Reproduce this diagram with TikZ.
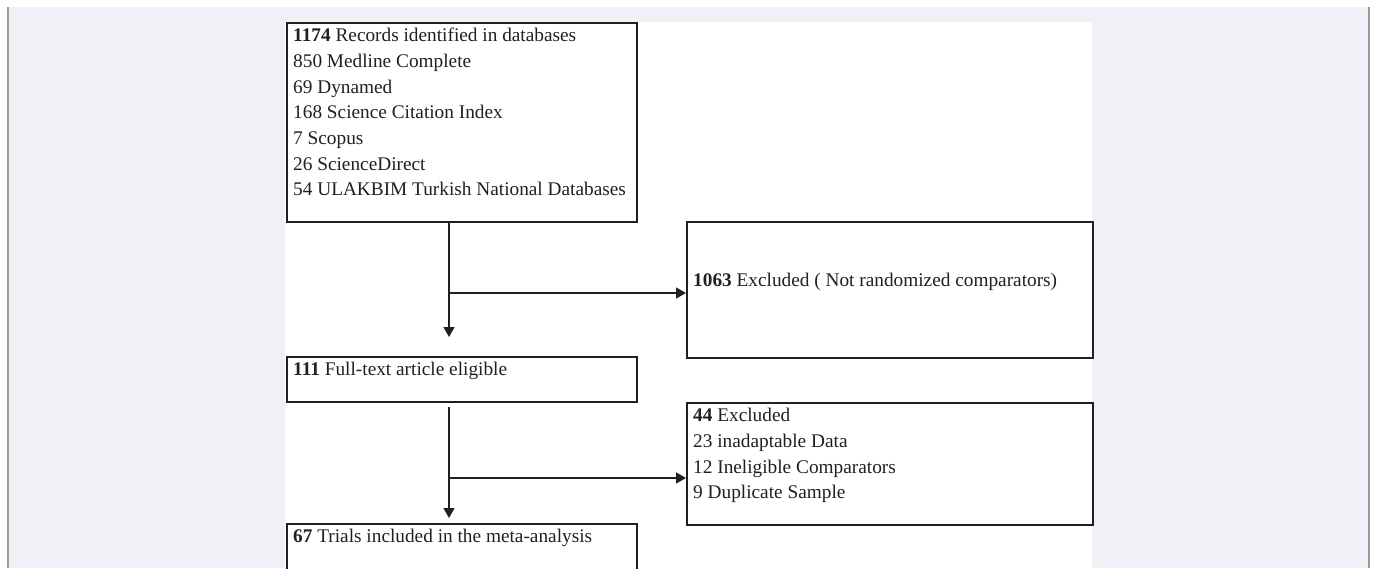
\documentclass[tikz,border=0pt]{standalone}
\usepackage{fontspec}
\setmainfont{Liberation Serif}
\usepackage{xcolor}
\usetikzlibrary{positioning, arrows.meta}

\definecolor{ink}{HTML}{231F20}
\definecolor{pagegray}{HTML}{F0F1F7}
\definecolor{rulegray}{HTML}{9A9A9A}

\begin{document}
\begin{tikzpicture}[x=1pt, y=-1pt,
  box/.style={draw=ink, line width=2pt, fill=white, inner sep=0pt, anchor=north west},
  txt/.style={text=ink, font=\fontsize{19.3}{25.7}\selectfont, align=left, inner sep=0pt},
  flow/.style={draw=ink, line width=1.6pt, -{Triangle[length=10pt, width=11pt]}}]
  \useasboundingbox (0,0) rectangle (1375,568);
  \clip (0,0) rectangle (1375,568);

  % Page
  \fill[white] (0,0) rectangle (1375,568);
  \fill[pagegray] (8,7) rectangle (1369,568);
  \fill[white] (285,22) rectangle (1092,568);
  \draw[rulegray, line width=1.5pt] (8,7) -- (8,568) (1369,7) -- (1369,568);

  % Boxes
  \node[box, minimum width=350pt, minimum height=199pt] (rec) at (286,22) {};
  \node[box, minimum width=406pt, minimum height=136pt] (excl1) at (686,221) {};
  \node[box, minimum width=350pt, minimum height=45pt] (full) at (286,356) {};
  \node[box, minimum width=406pt, minimum height=122pt] (excl2) at (686,402) {};
  \node[box, minimum width=350pt, minimum height=50pt] (incl) at (286,523) {};

  % Texts
  \node[txt, below right=6pt and 7pt of rec.north west] (rectxt)
    {\textbf{1174} Records identified in databases\\
     850 Medline Complete\\
     69 Dynamed\\
     168 Science Citation Index\\
     7 Scopus\\
     26 ScienceDirect\\
     54 ULAKBIM Turkish National Databases};
  \node[txt, anchor=base west] (excl1txt) at (693,286)
    {\textbf{1063} Excluded ( Not randomized comparators)};
  \node[txt, below right=6pt and 7pt of full.north west] (fulltxt)
    {\textbf{111} Full-text article eligible};
  \node[txt, below right=6pt and 7pt of excl2.north west] (excl2txt)
    {\textbf{44} Excluded\\
     23 inadaptable Data\\
     12 Ineligible Comparators\\
     9 Duplicate Sample};
  \node[txt, below right=6pt and 7pt of incl.north west] (incltxt)
    {\textbf{67} Trials included in the meta-analysis};

  % Arrows
  \coordinate (split1) at (449,293);
  \coordinate (end1) at (449,337);
  \coordinate (start2) at (449,407);
  \coordinate (split2) at (449,478);
  \coordinate (end2) at (449,518);
  \draw[flow] (rec.south -| split1) -- (end1);
  \draw[flow] (split1) -- (excl1.west |- split1);
  \draw[flow] (start2) -- (end2);
  \draw[flow] (split2) -- (excl2.west |- split2);
\end{tikzpicture}
\end{document}
